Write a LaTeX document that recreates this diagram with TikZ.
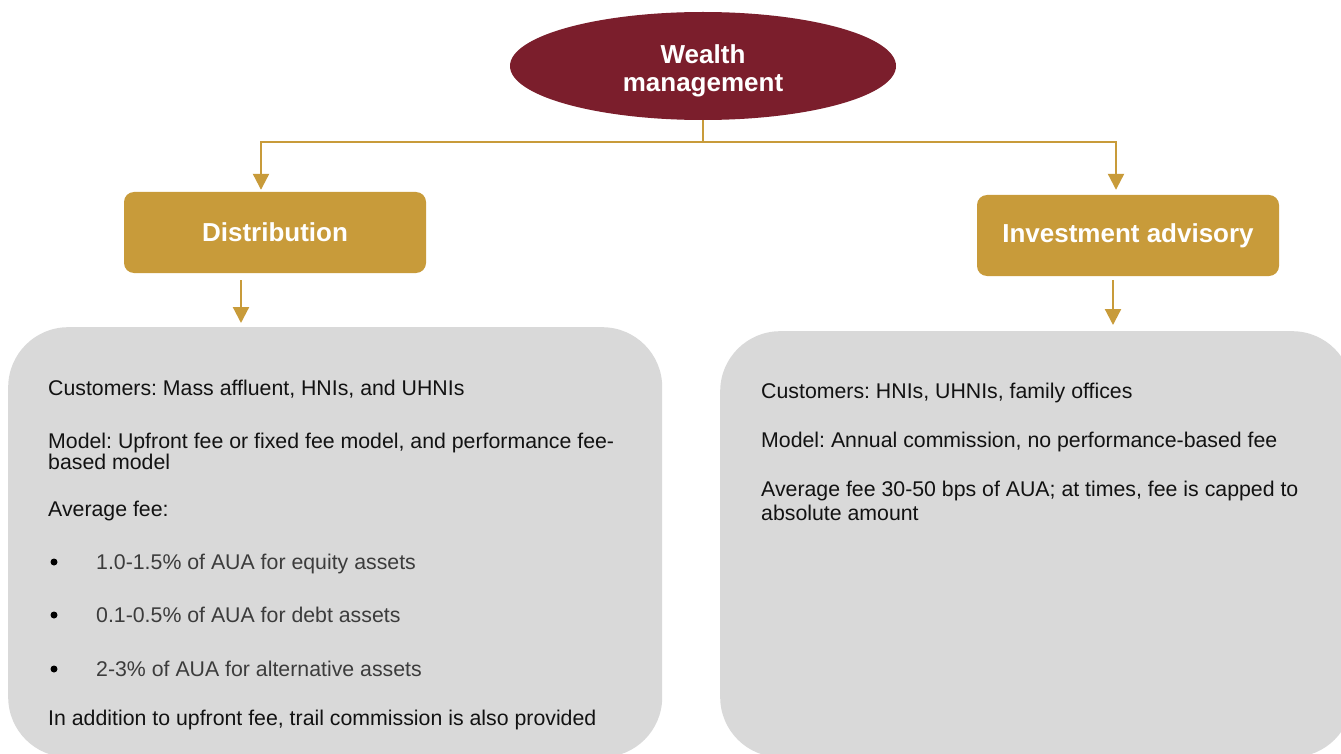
\documentclass[tikz,border=0pt]{standalone}
\usepackage{fontspec}
\setmainfont{Liberation Sans}
\frenchspacing
\usetikzlibrary{shapes.geometric,arrows.meta,positioning}
\definecolor{wmred}{RGB}{123,30,44}
\definecolor{wmgold}{RGB}{200,155,58}
\definecolor{wmgray}{RGB}{217,217,217}
\definecolor{wmtext}{RGB}{18,18,18}
\definecolor{wmsub}{RGB}{60,60,60}
\tikzset{rootnode/.style={ellipse,fill=wmred,minimum width=386pt,minimum height=108pt,inner sep=0pt},
         roottext/.style={text=white,align=center,font=\bfseries\fontsize{26}{28}\selectfont,inner sep=0pt},
         branch/.style={rectangle,rounded corners=10pt,fill=wmgold,text=white,minimum width=302pt,
           minimum height=81pt,font=\bfseries\fontsize{26}{28}\selectfont},
         panel/.style={rectangle,rounded corners=60pt,fill=wmgray,anchor=north west}}
\tikzset{link/.style={wmgold,line width=2.2pt},
         linkarrow/.style={link,-{Triangle[width=16pt,length=16pt]}},
         ptext/.style={anchor=base west,inner sep=0pt,font=\fontsize{21.3}{23}\selectfont,text=wmtext},
         psub/.style={ptext,text=wmsub},
         pdot/.style={circle,fill=black,minimum size=7pt,inner sep=0pt}}

\begin{document}
\begin{tikzpicture}[x=1pt,y=-1pt]
    \clip (0,0) rectangle (1341,754);
    \fill[white] (0,0) rectangle (1341,754);
    % panels first, so the arrows sit on top
    \node[panel,minimum width=654pt,minimum height=430pt] (distpanel) at (8,327) {};
    \node[panel,minimum width=632pt,minimum height=426pt] (invpanel) at (720,331) {};
    \node[rootnode] (wm) at (703,66) {};
    \node[roottext] (wmlabel) at ([yshift=-5pt]wm.center) {Wealth\\management};
    \node[branch] (dist) at (275,232.5) {Distribution};
    \node[branch] (inv) at (1128,235.5) {Investment advisory};
    % tree connectors
    \draw[link] (wm.south) -- ++(0,22) coordinate (split);
    \draw[linkarrow,shorten >=2pt] (split) -| ([xshift=-14pt]dist.north);
    \draw[linkarrow,shorten >=5pt] (split) -| ([xshift=-12pt]inv.north);
    \coordinate (distout) at ([xshift=-34pt]dist.south);
    \coordinate (invout) at ([xshift=-15pt]inv.south);
    \draw[linkarrow,shorten <=7pt,shorten >=4pt] (distout) -- (distout |- distpanel.north);
    \draw[linkarrow,shorten <=4pt,shorten >=6pt] (invout) -- (invout |- invpanel.north);
    % distribution panel
    \node[ptext] (cust1) at (48,395) {Customers: Mass affluent, HNIs, and UHNIs};
    \node[ptext] (model1) at (48,448) {Model: Upfront fee or fixed fee model, and performance fee-};
    \node[ptext] (model1b) at (48,469) {based model};
    \node[ptext] (avg1) at (48,516) {Average fee:};
    \foreach \y/\t [count=\i] in {569/{1.0-1.5\% of AUA for equity assets},
                                  622/{0.1-0.5\% of AUA for debt assets},
                                  676/{2-3\% of AUA for alternative assets}}{
      \node[pdot] (dot\i) at (54,\y-7) {};
      \node[psub] (item\i) at (96,\y) {\t};
    }
    \node[ptext] (trail) at (48,725) {In addition to upfront fee, trail commission is also provided};
    % advisory panel
    \node[ptext] (cust2) at (761,398) {Customers: HNIs, UHNIs, family offices};
    \node[ptext] (model2) at (761,447) {Model: Annual commission, no performance-based fee};
    \node[ptext] (avg2) at (761,496) {Average fee 30-50 bps of AUA; at times, fee is capped to};
    \node[ptext] (avg2b) at (761,520) {absolute amount};
\end{tikzpicture}
\end{document}
